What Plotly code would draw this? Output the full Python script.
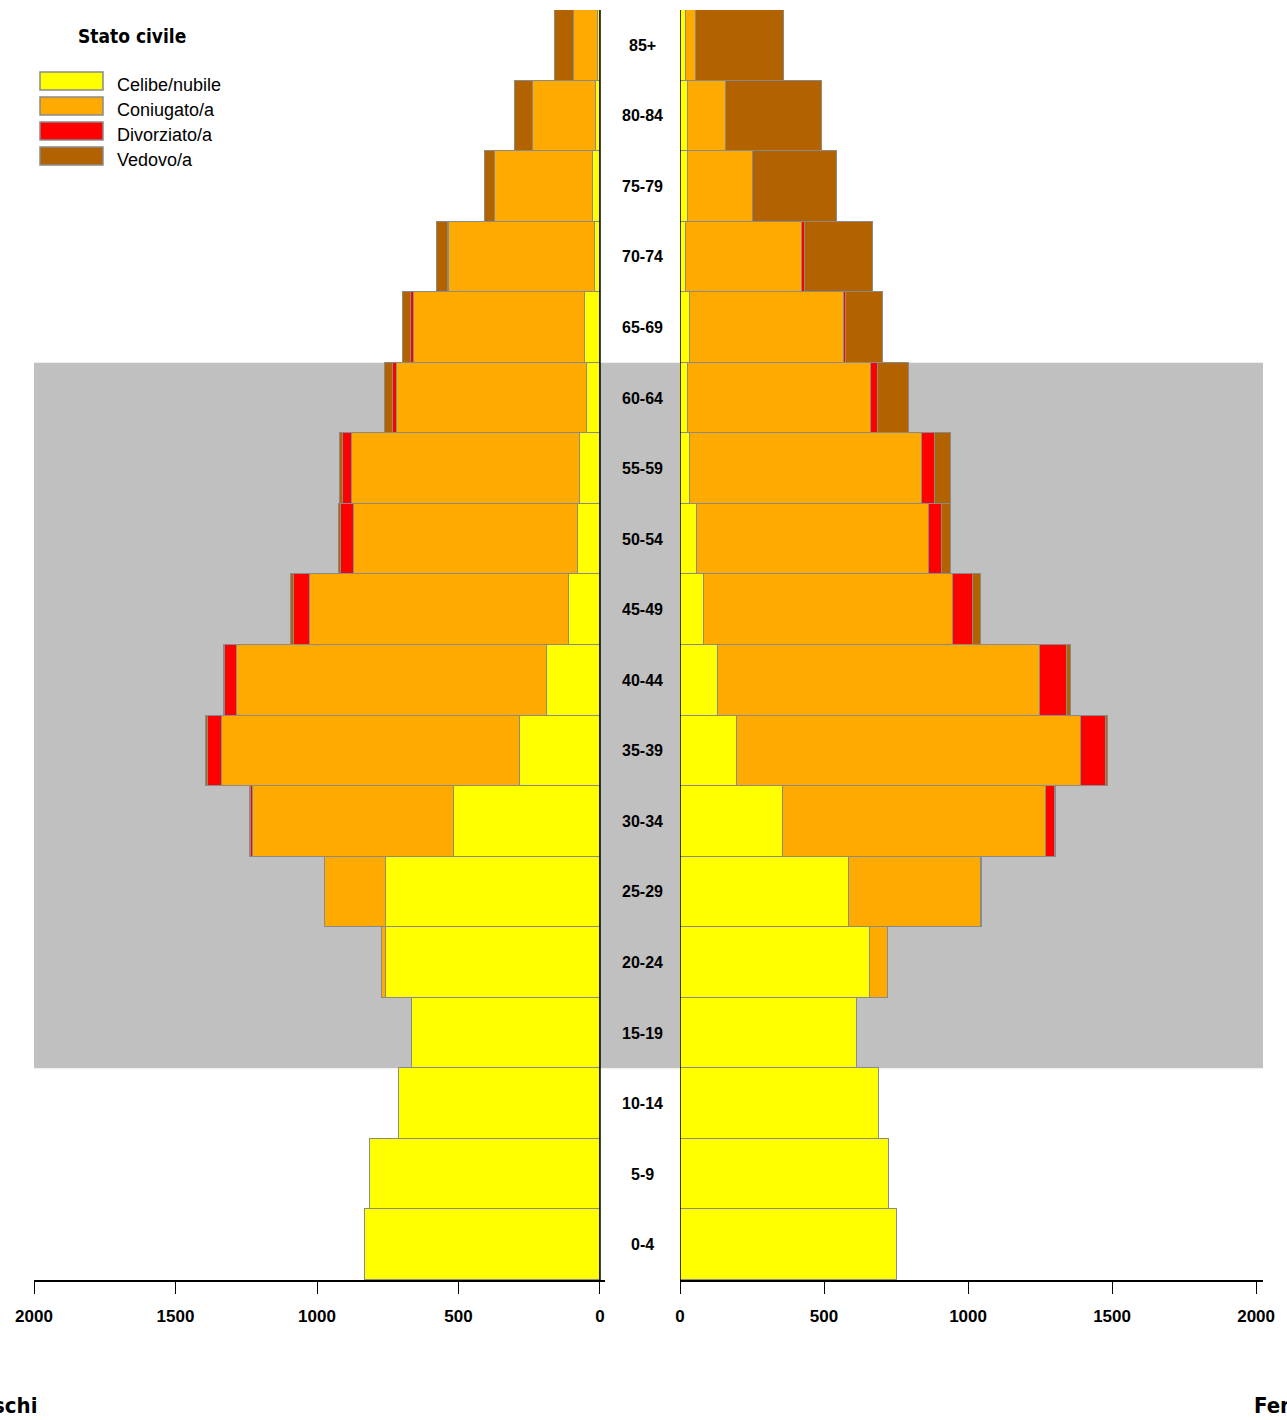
import plotly.graph_objects as go

W, H = 1287, 1420

ages = ["0-4", "5-9", "10-14", "15-19", "20-24", "25-29", "30-34", "35-39", "40-44",
        "45-49", "50-54", "55-59", "60-64", "65-69", "70-74", "75-79", "80-84", "85+"]

status_names = ["Celibe/nubile", "Coniugato/a", "Divorziato/a", "Vedovo/a"]
status_colors = ["#FFFF00", "#FFAA00", "#FF0000", "#B36200"]

# Maschi (males), ordered 0-4 ... 85+
m_celibe = [832, 813, 710, 666, 755, 757, 517, 283, 186, 109, 78, 71, 46, 53, 17, 25, 15, 8]
m_coniug = [0, 0, 0, 0, 17, 215, 709, 1053, 1096, 915, 791, 807, 671, 605, 516, 346, 222, 85]
m_divorz = [0, 0, 0, 0, 0, 0, 8, 49, 42, 57, 46, 31, 13, 10, 4, 0, 0, 0]
m_vedovo = [0, 0, 0, 0, 0, 0, 3, 7, 4, 11, 7, 10, 28, 28, 40, 37, 62, 67]

# Femmine (females)
f_nubile = [755, 726, 690, 614, 658, 588, 356, 198, 132, 82, 58, 33, 28, 33, 22, 28, 28, 20]
f_coniug = [0, 0, 0, 0, 63, 458, 914, 1194, 1118, 867, 806, 806, 636, 536, 403, 225, 133, 36]
f_divorz = [0, 0, 0, 0, 0, 0, 31, 87, 92, 67, 44, 47, 22, 7, 8, 0, 0, 0]
f_vedova = [0, 0, 0, 0, 0, 4, 3, 7, 17, 28, 32, 54, 109, 129, 236, 292, 331, 306]

x_ticks = [0, 500, 1000, 1500, 2000]
working_age = ("15-19", "60-64")
side_labels = ["Maschi", "Femmine"]
legend_title = "Stato civile"

males = [m_celibe, m_coniug, m_divorz, m_vedovo]
females = [f_nubile, f_coniug, f_divorz, f_vedova]
ypos = list(range(len(ages)))

def px_x(p):
    return p / W

def px_y(p):
    return 1 - p / H

fig = go.Figure()
line_col = "#8A8A8A"
for name, col, vals in zip(status_names, status_colors, males):
    fig.add_trace(go.Bar(y=ypos, x=vals, orientation="h", name=name, marker=dict(color=col, line=dict(color=line_col, width=1)),
                         xaxis="x", yaxis="y", showlegend=False, width=1))
for name, col, vals in zip(status_names, status_colors, females):
    fig.add_trace(go.Bar(y=ypos, x=vals, orientation="h", name=name, marker=dict(color=col, line=dict(color=line_col, width=1)),
                         xaxis="x2", yaxis="y2", showlegend=False, width=1))

cond = "DejaVu Sans Condensed, Liberation Sans, Arial"
ydom = [px_y(1280), px_y(10)]
yr = [-0.5, len(ages) - 0.5]
tickfont = dict(family="Liberation Sans, Arial", size=17, color="black", weight="bold")
common_x = dict(showgrid=False, zeroline=False, showline=True, linecolor="black", linewidth=2, automargin=False,
                ticks="outside", ticklen=12, tickwidth=1, tickcolor="black", tickvals=x_ticks,
                ticktext=[str(v) for v in x_ticks], tickfont=tickfont, ticklabelstandoff=8, fixedrange=True)
common_y = dict(showticklabels=False, showgrid=False, zeroline=False, showline=False, ticks="", automargin=False, fixedrange=True)
fig.update_layout(
    width=W, height=H, margin=dict(l=0, r=0, t=0, b=0, autoexpand=False),
    paper_bgcolor="white", plot_bgcolor="rgba(0,0,0,0)",
    barmode="stack", bargap=0,
    xaxis=dict(domain=[px_x(34), px_x(605)], range=[2000, -17.7], anchor="y", **common_x),
    xaxis2=dict(domain=[px_x(680), px_x(1263)], range=[0, 2024], anchor="y2", **common_x),
    yaxis=dict(domain=ydom, range=yr, anchor="x", **common_y),
    yaxis2=dict(domain=ydom, range=yr, anchor="x2", **common_y),
    showlegend=False,
)

shapes = []
i0 = ages.index(working_age[0]) - 0.5
i1 = ages.index(working_age[1]) + 0.5
shapes.append(dict(type="rect", xref="paper", yref="y", x0=px_x(34), x1=px_x(1263), y0=i0, y1=i1,
                   fillcolor="#C0C0C0", line=dict(width=0), layer="below"))
# vertical zero lines
shapes.append(dict(type="line", xref="x", yref="paper", x0=0, x1=0, y0=ydom[0], y1=ydom[1], line=dict(color="black", width=1.5)))
shapes.append(dict(type="line", xref="x2", yref="paper", x0=0, x1=0, y0=ydom[0], y1=ydom[1], line=dict(color="black", width=1.5)))

annotations = []
for i, a in enumerate(ages):
    annotations.append(dict(x=px_x(642), y=i, xref="paper", yref="y", text=a, showarrow=False,
                            font=dict(family="Liberation Sans, Arial", size=16, color="black", weight="bold"),
                            xanchor="center", yanchor="middle"))

# legend
annotations.append(dict(x=px_x(132), y=px_y(36), xref="paper", yref="paper", text=legend_title, showarrow=False,
                        font=dict(family=cond, size=19, color="black", weight="bold"),
                        xanchor="center", yanchor="middle"))
for k, (name, col) in enumerate(zip(status_names, status_colors)):
    yc = 81 + 25 * k
    shapes.append(dict(type="rect", xref="paper", yref="paper", x0=px_x(40), x1=px_x(103), y0=px_y(yc + 9), y1=px_y(yc - 9),
                       fillcolor=col, line=dict(color=line_col, width=1.5)))
    annotations.append(dict(x=px_x(115), y=px_y(yc + 4), xref="paper", yref="paper", text=name, showarrow=False,
                            font=dict(family="Liberation Sans, Arial", size=18, color="black"),
                            xanchor="left", yanchor="middle"))

annotations.append(dict(x=px_x(39), y=px_y(1405), xref="paper", yref="paper", text=side_labels[0], showarrow=False,
                        font=dict(family=cond, size=22, color="black", weight="bold"),
                        xanchor="right", yanchor="middle"))
annotations.append(dict(x=px_x(1252), y=px_y(1405), xref="paper", yref="paper", text=side_labels[1], showarrow=False,
                        font=dict(family=cond, size=22, color="black", weight="bold"),
                        xanchor="left", yanchor="middle"))

fig.update_layout(shapes=shapes, annotations=annotations)
fig.write_html("out.html", config={"displayModeBar": False},
               post_script="document.body.style.margin='0';document.body.style.overflow='hidden';")
